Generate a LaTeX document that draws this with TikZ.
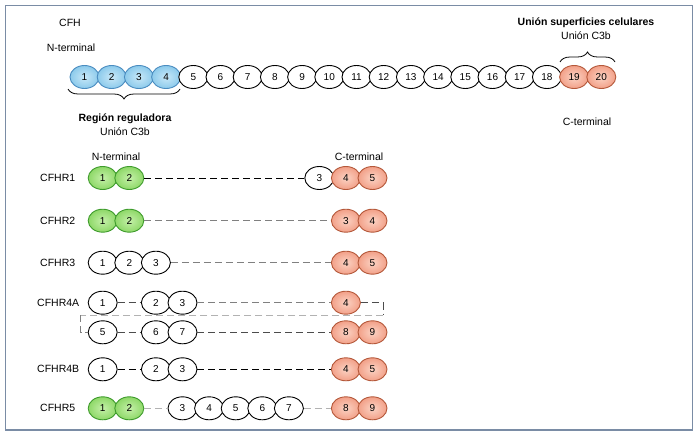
\documentclass[tikz,border=0pt]{standalone}
\usepackage{fontspec}
\setmainfont{Liberation Sans}
\usetikzlibrary{shapes.geometric,decorations.pathreplacing}
\definecolor{frameC}{HTML}{7A8CA5}
\definecolor{blueB}{HTML}{4A8CC0}
\definecolor{blueIn}{HTML}{C8E8F8}
\definecolor{blueOut}{HTML}{8CCAEB}
\definecolor{greenB}{HTML}{3E9B2C}
\definecolor{greenIn}{HTML}{C4F0A8}
\definecolor{greenOut}{HTML}{8ED868}
\definecolor{redB}{HTML}{B4583A}
\definecolor{redIn}{HTML}{FBD3C4}
\definecolor{redOut}{HTML}{F2A088}
\tikzset{
  dom/.style={ellipse, draw, line width=0.9pt, minimum width=29pt, minimum height=23pt, inner sep=0pt, font=\fontsize{10}{12}\selectfont},
  dw/.style={dom, fill=white, draw=black},
  db/.style={dom, draw=blueB, inner color=blueIn, outer color=blueOut},
  dg/.style={dom, draw=greenB, inner color=greenIn, outer color=greenOut},
  dr/.style={dom, draw=redB, inner color=redIn, outer color=redOut},
  lbl/.style={font=\fontsize{10.5}{12}\selectfont, inner sep=0pt},
  blbl/.style={font=\fontsize{10.5}{12}\selectfont\bfseries, inner sep=0pt},
  rowlbl/.style={lbl, anchor=west},
  dsh/.style={dash pattern=on 7pt off 4pt, line width=1pt},
  cBlack/.style={dsh, black},
  cDark/.style={dsh, black!70},
  cMid/.style={dsh, black!50},
  cLight/.style={dsh, black!30},
  brc/.style={decorate, decoration={brace, amplitude=10pt, aspect=0.5}, line width=0.8pt}
}
\begin{document}
\begin{tikzpicture}[x=1pt,y=-1pt]
\useasboundingbox (0,0) rectangle (700,436);
\fill[white] (0,0) rectangle (700,436);
\draw[frameC, line width=1.3pt] (5.5,5.5) rectangle (692.5,430);

% ---- CFH ----
\node[lbl] (cfh) at (70,23) {CFH};
\node[lbl] (nterm) at (71,48) {N-terminal};
\foreach \i in {1,...,4} \node[db] (t\i) at ({84.5+(\i-1)*27.2},77) {\i};
\foreach \i in {5,...,18} \node[dw] (t\i) at ({84.5+(\i-1)*27.2},77) {\i};
\foreach \i in {19,20} \node[dr] (t\i) at ({84.5+(\i-1)*27.2},77) {\i};

\node[blbl] (sup) at (586,23) {Unión superficies celulares};
\node[lbl] (c3bR) at (586,36) {Unión C3b};
\coordinate (brRa) at (560,62);
\coordinate (brRb) at (615,62);
\draw[brc] (brRa) -- (brRb);
\node[lbl] (cterm) at (587,122) {C-terminal};

\coordinate (brLa) at (180,89);
\coordinate (brLb) at (68,89);
\draw[brc] (brLa) -- (brLb);
\node[blbl] (reg) at (125,119) {Región reguladora};
\node[lbl] (c3bL) at (125,132) {Unión C3b};

% ---- CFHR ----
\node[lbl] (nterm2) at (116,157) {N-terminal};
\node[lbl] (cterm2) at (359,157) {C-terminal};

% CFHR1
\node[rowlbl] (l1) at (40,178) {CFHR1};
\node[dg] (a1) at (102.7,178) {1};
\node[dg] (a2) at (129.3,178) {2};
\node[dw] (a3) at (319.3,178) {3};
\node[dr] (a4) at (345.9,178) {4};
\node[dr] (a5) at (372.5,178) {5};
\draw[cBlack] (a2.east) -- (a3.west);

% CFHR2
\node[rowlbl] (l2) at (40,220.7) {CFHR2};
\node[dg] (b1) at (102.7,220.7) {1};
\node[dg] (b2) at (129.3,220.7) {2};
\node[dr] (b3) at (345.9,220.7) {3};
\node[dr] (b4) at (372.5,220.7) {4};
\draw[cMid] (b2.east) -- (b3.west);

% CFHR3
\node[rowlbl] (l3) at (40,262.7) {CFHR3};
\node[dw] (c1) at (102.7,262.7) {1};
\node[dw] (c2) at (129.3,262.7) {2};
\node[dw] (c3) at (155.9,262.7) {3};
\node[dr] (c4) at (345.9,262.7) {4};
\node[dr] (c5) at (372.5,262.7) {5};
\draw[cMid] (c3.east) -- (c4.west);

% CFHR4A
\node[rowlbl] (l4) at (37,302.7) {CFHR4A};
\node[dw] (d1) at (102.7,302.7) {1};
\node[dw] (d2) at (155.9,302.7) {2};
\node[dw] (d3) at (182.5,302.7) {3};
\node[dr] (d4) at (345.9,302.7) {4};
\node[dw] (e5) at (102.7,332.3) {5};
\node[dw] (e6) at (155.9,332.3) {6};
\node[dw] (e7) at (182.5,332.3) {7};
\node[dr] (e8) at (345.9,332.3) {8};
\node[dr] (e9) at (372.5,332.3) {9};
\draw[cDark] (d1.east) -- (d2.west);
\draw[cMid] (d3.east) -- (d4.west);
\coordinate (lpA) at (383,302.7);
\coordinate (lpB) at (383,315);
\coordinate (lpC) at (80.7,315);
\coordinate (lpD) at (80.7,332.3);
\draw[cDark] (d4.east) -- (lpA) -- (lpB);
\draw[cLight] (lpB) -- (lpC);
\draw[cMid] (lpC) -- (lpD) -- (e5.west);
\draw[cDark] (e5.east) -- (e6.west);
\draw[cDark] (e7.east) -- (e8.west);

% CFHR4B
\node[rowlbl] (l5) at (37,369.3) {CFHR4B};
\node[dw] (f1) at (102.7,369.3) {1};
\node[dw] (f2) at (155.9,369.3) {2};
\node[dw] (f3) at (182.5,369.3) {3};
\node[dr] (f4) at (345.9,369.3) {4};
\node[dr] (f5) at (372.5,369.3) {5};
\draw[cBlack] (f1.east) -- (f2.west);
\draw[cBlack] (f3.east) -- (f4.west);

% CFHR5
\node[rowlbl] (l6) at (40,408.3) {CFHR5};
\node[dg] (g1) at (102.7,408.3) {1};
\node[dg] (g2) at (129.3,408.3) {2};
\node[dw] (g3) at (182.5,408.3) {3};
\node[dw] (g4) at (209.1,408.3) {4};
\node[dw] (g5) at (235.7,408.3) {5};
\node[dw] (g6) at (262.3,408.3) {6};
\node[dw] (g7) at (288.9,408.3) {7};
\node[dr] (g8) at (345.9,408.3) {8};
\node[dr] (g9) at (372.5,408.3) {9};
\draw[cLight] (g2.east) -- (g3.west);
\draw[cLight] (g7.east) -- (g8.west);
\end{tikzpicture}
\end{document}
